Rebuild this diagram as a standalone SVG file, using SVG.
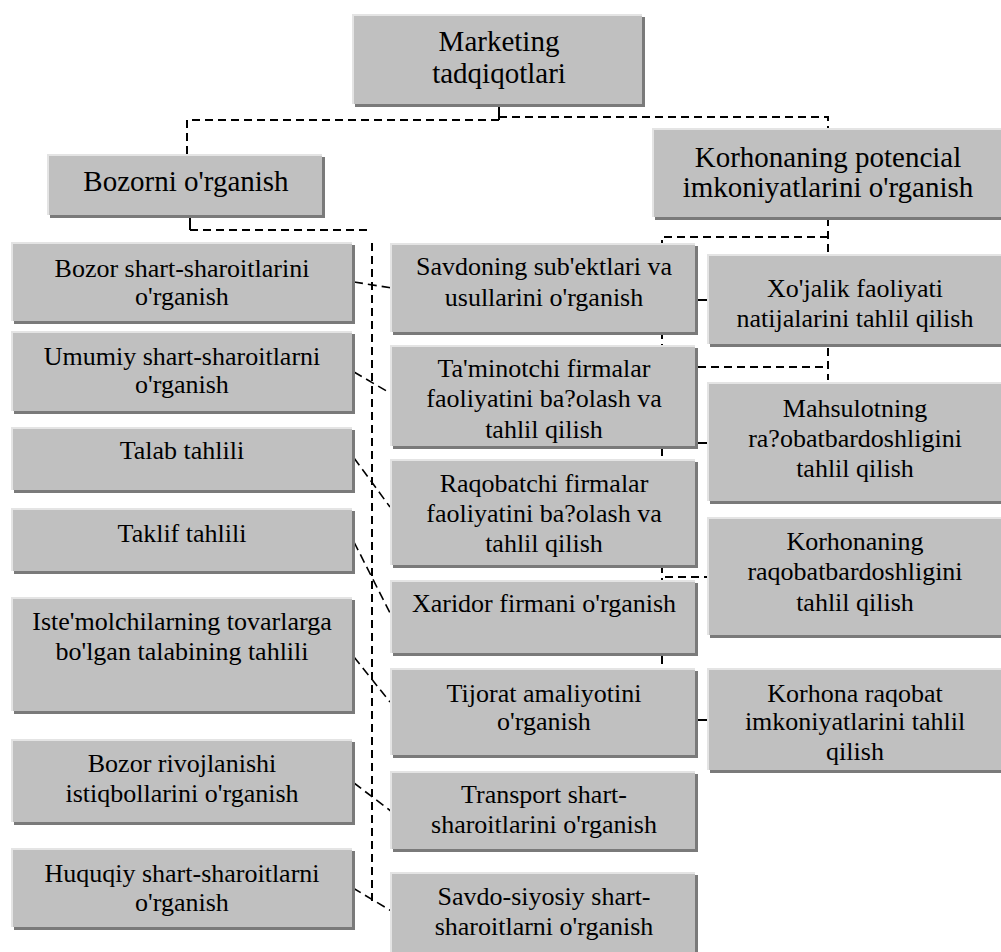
<svg xmlns="http://www.w3.org/2000/svg" width="1001" height="952" viewBox="0 0 1001 952">
<style>
.sh{fill:#7a7a7a}
.bx{fill:#c0c0c0}
.hl{fill:none;stroke:#e4e4e4;stroke-width:2}
.t{font-family:"Liberation Serif","Times New Roman",serif;font-size:26px;fill:#000;text-anchor:middle}
.tb{font-size:29px}
.c{fill:none;stroke:#000;stroke-width:2;stroke-dasharray:8 5}
.s{fill:none;stroke:#000;stroke-width:2}
.d{fill:none;stroke:#000;stroke-width:1.6;stroke-dasharray:9 5}
</style>
<rect width="1001" height="952" fill="#fff"/>
<g id="connectors">
<path class="s" d="M499,107 V120"/>
<path class="c" d="M499,120 H187 V154"/>
<path class="c" d="M499,117 H828 V128"/>
<path class="s" d="M190,218 V230"/>
<path class="c" d="M190,230 H368"/>
<path class="c" d="M372,243 V902"/>
<path class="d" d="M354,282 L392,288"/>
<path class="d" d="M354,372 L390,393"/>
<path class="d" d="M354,458 L390,507"/>
<path class="d" d="M354,542 L390,613"/>
<path class="d" d="M354,657 L390,702"/>
<path class="d" d="M354,783 L392,812"/>
<path class="d" d="M353,888 L393,912"/>
<path class="c" d="M828,218 V380"/>
<path class="c" d="M828,237 H662 V668"/>
<path class="c" d="M698,367 H828"/>
<path class="s" d="M698,300 H707"/>
<path class="s" d="M698,443 H707"/>
<path class="c" d="M665,577 H711"/>
<path class="s" d="M698,720 H707"/>
</g>
<g id="n-marketing">
<rect class="sh" x="355" y="17" width="290" height="90"/><rect class="bx" x="352" y="14" width="290" height="90"/><path class="hl" d="M353,104 V15 H642"/>
<text class="t tb" x="499" y="51">Marketing</text><text class="t tb" x="499" y="83">tadqiqotlari</text>
</g>
<g id="n-bozorni">
<rect class="sh" x="50" y="157" width="275" height="61"/><rect class="bx" x="47" y="154" width="275" height="61"/><path class="hl" d="M48,215 V155 H322"/>
<text class="t tb" x="186" y="191">Bozorni o'rganish</text>
</g>
<g id="n-korhonaning">
<rect class="sh" x="655" y="131" width="360" height="89"/><rect class="bx" x="652" y="128" width="360" height="89"/><path class="hl" d="M653,217 V129 H1012"/>
<text class="t tb" x="828" y="167">Korhonaning potencial</text><text class="t tb" x="828" y="197">imkoniyatlarini o'rganish</text>
</g>
<g id="n-l1">
<rect class="sh" x="14" y="245" width="341" height="79"/><rect class="bx" x="11" y="242" width="341" height="79"/><path class="hl" d="M12,321 V243 H352"/>
<text class="t" x="182" y="277">Bozor shart-sharoitlarini</text><text class="t" x="182" y="305">o'rganish</text>
</g>
<g id="n-l2">
<rect class="sh" x="14" y="334" width="341" height="80"/><rect class="bx" x="11" y="331" width="341" height="80"/><path class="hl" d="M12,411 V332 H352"/>
<text class="t" x="182" y="365">Umumiy shart-sharoitlarni</text><text class="t" x="182" y="393">o'rganish</text>
</g>
<g id="n-l3">
<rect class="sh" x="14" y="430" width="341" height="63"/><rect class="bx" x="11" y="427" width="341" height="63"/><path class="hl" d="M12,490 V428 H352"/>
<text class="t" x="182" y="459">Talab tahlili</text>
</g>
<g id="n-l4">
<rect class="sh" x="14" y="511" width="341" height="63"/><rect class="bx" x="11" y="508" width="341" height="63"/><path class="hl" d="M12,571 V509 H352"/>
<text class="t" x="182" y="542">Taklif tahlili</text>
</g>
<g id="n-l5">
<rect class="sh" x="14" y="600" width="341" height="114"/><rect class="bx" x="11" y="597" width="341" height="114"/><path class="hl" d="M12,711 V598 H352"/>
<text class="t" x="182" y="630">Iste'molchilarning tovarlarga</text><text class="t" x="182" y="660">bo'lgan talabining tahlili</text>
</g>
<g id="n-l6">
<rect class="sh" x="14" y="742" width="341" height="83"/><rect class="bx" x="11" y="739" width="341" height="83"/><path class="hl" d="M12,822 V740 H352"/>
<text class="t" x="182" y="772">Bozor rivojlanishi</text><text class="t" x="182" y="802">istiqbollarini o'rganish</text>
</g>
<g id="n-l7">
<rect class="sh" x="14" y="851" width="341" height="79"/><rect class="bx" x="11" y="848" width="341" height="79"/><path class="hl" d="M12,927 V849 H352"/>
<text class="t" x="182" y="882">Huquqiy shart-sharoitlarni</text><text class="t" x="182" y="911">o'rganish</text>
</g>
<g id="n-m1">
<rect class="sh" x="393" y="246" width="305" height="89"/><rect class="bx" x="390" y="243" width="305" height="89"/><path class="hl" d="M391,332 V244 H695"/>
<text class="t" x="544" y="275">Savdoning sub'ektlari va</text><text class="t" x="544" y="306">usullarini o'rganish</text>
</g>
<g id="n-m2">
<rect class="sh" x="393" y="348" width="305" height="101"/><rect class="bx" x="390" y="345" width="305" height="101"/><path class="hl" d="M391,446 V346 H695"/>
<text class="t" x="544" y="377">Ta'minotchi firmalar</text><text class="t" x="544" y="407">faoliyatini ba?olash va</text><text class="t" x="544" y="438">tahlil qilish</text>
</g>
<g id="n-m3">
<rect class="sh" x="393" y="462" width="305" height="106"/><rect class="bx" x="390" y="459" width="305" height="106"/><path class="hl" d="M391,565 V460 H695"/>
<text class="t" x="544" y="492">Raqobatchi firmalar</text><text class="t" x="544" y="522">faoliyatini ba?olash va</text><text class="t" x="544" y="552">tahlil qilish</text>
</g>
<g id="n-m4">
<rect class="sh" x="393" y="583" width="305" height="73"/><rect class="bx" x="390" y="580" width="305" height="73"/><path class="hl" d="M391,653 V581 H695"/>
<text class="t" x="544" y="612">Xaridor firmani o'rganish</text>
</g>
<g id="n-m5">
<rect class="sh" x="393" y="671" width="305" height="87"/><rect class="bx" x="390" y="668" width="305" height="87"/><path class="hl" d="M391,755 V669 H695"/>
<text class="t" x="544" y="702">Tijorat amaliyotini</text><text class="t" x="544" y="730">o'rganish</text>
</g>
<g id="n-m6">
<rect class="sh" x="393" y="774" width="305" height="78"/><rect class="bx" x="390" y="771" width="305" height="78"/><path class="hl" d="M391,849 V772 H695"/>
<text class="t" x="544" y="803">Transport shart-</text><text class="t" x="544" y="833">sharoitlarini o'rganish</text>
</g>
<g id="n-m7">
<rect class="sh" x="393" y="875" width="305" height="90"/><rect class="bx" x="390" y="872" width="305" height="90"/><path class="hl" d="M391,962 V873 H695"/>
<text class="t" x="544" y="905">Savdo-siyosiy shart-</text><text class="t" x="544" y="935">sharoitlarni o'rganish</text>
</g>
<g id="n-r1">
<rect class="sh" x="710" y="257" width="300" height="90"/><rect class="bx" x="707" y="254" width="300" height="90"/><path class="hl" d="M708,344 V255 H1007"/>
<text class="t" x="855" y="297">Xo'jalik faoliyati</text><text class="t" x="855" y="327">natijalarini tahlil qilish</text>
</g>
<g id="n-r2">
<rect class="sh" x="710" y="385" width="300" height="119"/><rect class="bx" x="707" y="382" width="300" height="119"/><path class="hl" d="M708,501 V383 H1007"/>
<text class="t" x="855" y="417">Mahsulotning</text><text class="t" x="855" y="447">ra?obatbardoshligini</text><text class="t" x="855" y="477">tahlil qilish</text>
</g>
<g id="n-r3">
<rect class="sh" x="710" y="520" width="300" height="118"/><rect class="bx" x="707" y="517" width="300" height="118"/><path class="hl" d="M708,635 V518 H1007"/>
<text class="t" x="855" y="550">Korhonaning</text><text class="t" x="855" y="580">raqobatbardoshligini</text><text class="t" x="855" y="611">tahlil qilish</text>
</g>
<g id="n-r4">
<rect class="sh" x="710" y="671" width="300" height="102"/><rect class="bx" x="707" y="668" width="300" height="102"/><path class="hl" d="M708,770 V669 H1007"/>
<text class="t" x="855" y="702">Korhona raqobat</text><text class="t" x="855" y="730">imkoniyatlarini tahlil</text><text class="t" x="855" y="760">qilish</text>
</g>
</svg>
